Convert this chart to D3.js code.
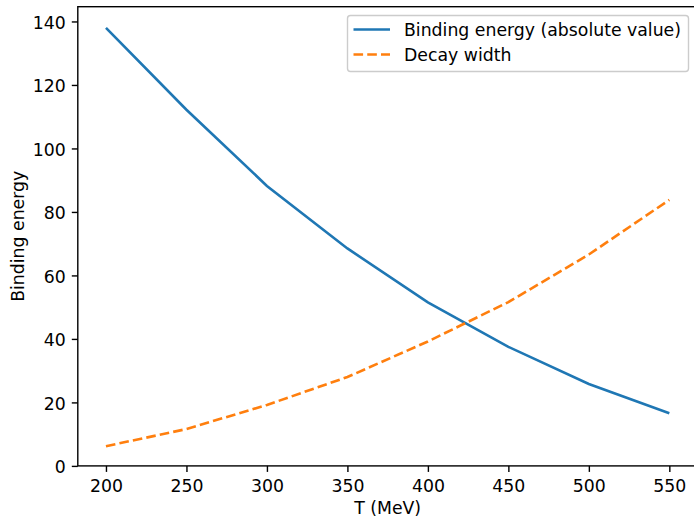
<!DOCTYPE html>
<html>
<head>
<meta charset="utf-8">
<script src="https://cdn.jsdelivr.net/npm/d3@7"></script>
<style>
  body { margin: 0; background: white; }
  text { font-family: "DejaVu Sans", sans-serif; }
</style>
</head>
<body>
<script>
const width = 694;
const height = 519;

// data
const temps = [200, 250, 300, 350, 400, 450, 500, 550];
const binding = [138.0, 112.2, 88.2, 68.5, 51.5, 37.5, 25.8, 16.6];
const decay = [6.2, 11.6, 19.2, 28.0, 39.2, 51.6, 66.6, 83.8];
const x_ticks = [200, 250, 300, 350, 400, 450, 500, 550];
const y_ticks = [0, 20, 40, 60, 80, 100, 120, 140];
const labels = ["Binding energy (absolute value)", "Decay width"];

const ax_left = 77.8, ax_right = 697.5, ax_top = 6.7, ax_bottom = 465.9;
const fs = "17.3px";
const lw = 2.6;
const dash = "9.6,4.15";

let svg = d3.select("body").append("svg")
    .attr("width", width)
    .attr("height", height);

let x = d3.scaleLinear().domain([182.5, 567.5]).range([ax_left, ax_right]);
let y = d3.scaleLinear().domain([0, 144.65]).range([ax_bottom, ax_top]);

// lines
let line = d3.line().x((d, i) => x(temps[i])).y(d => y(d));

svg.append("path")
    .datum(binding)
    .attr("d", line)
    .attr("fill", "none")
    .attr("stroke", "#1f77b4")
    .attr("stroke-width", lw);

svg.append("path")
    .datum(decay)
    .attr("d", line)
    .attr("fill", "none")
    .attr("stroke", "#ff7f0e")
    .attr("stroke-width", lw)
    .attr("stroke-dasharray", dash);

// axes
let xAxis = svg.append("g")
    .attr("transform", `translate(0,${ax_bottom})`)
    .call(d3.axisBottom(x).tickValues(x_ticks).tickSize(6).tickPadding(8).tickFormat(d3.format("d")));
let yAxis = svg.append("g")
    .attr("transform", `translate(${ax_left},0)`)
    .call(d3.axisLeft(y).tickValues(y_ticks).tickSize(6).tickPadding(6).tickFormat(d3.format("d")));

[xAxis, yAxis].forEach(a => {
    a.select(".domain").remove();
    a.selectAll(".tick line").attr("stroke", "black").attr("stroke-width", 1.4);
    a.selectAll(".tick text")
        .attr("fill", "black")
        .attr("font-size", fs);
});
yAxis.selectAll(".tick text").attr("dy", "0.4em");

// spines
svg.append("rect")
    .attr("x", ax_left).attr("y", ax_top)
    .attr("width", ax_right - ax_left).attr("height", ax_bottom - ax_top)
    .attr("fill", "none")
    .attr("stroke", "black")
    .attr("stroke-width", 1.4);

// axis labels
svg.append("text")
    .attr("text-anchor", "middle")
    .attr("x", (ax_left + ax_right) / 2)
    .attr("y", 514)
    .style("font-size", fs)
    .text("T (MeV)");

svg.append("text")
    .attr("text-anchor", "middle")
    .attr("transform", `translate(23.5,${(ax_top + ax_bottom) / 2}) rotate(-90)`)
    .style("font-size", fs)
    .text("Binding energy");

// legend
let lg = svg.append("g").attr("transform", "translate(347.5,15.5)");
lg.append("rect")
    .attr("width", 341).attr("height", 56)
    .attr("rx", 3)
    .attr("fill", "white")
    .attr("fill-opacity", 0.8)
    .attr("stroke", "#cccccc")
    .attr("stroke-width", 1.4);

labels.forEach((l, i) => {
    let yy = 14 + i * 25;
    lg.append("line")
        .attr("x1", 6).attr("x2", 42.5)
        .attr("y1", yy).attr("y2", yy)
        .attr("stroke", i == 0 ? "#1f77b4" : "#ff7f0e")
        .attr("stroke-width", lw)
        .attr("stroke-dasharray", i == 0 ? null : dash);
    lg.append("text")
        .attr("x", 56.5)
        .attr("y", yy + 6.3)
        .style("font-size", fs)
        .text(l);
});
</script>
</body>
</html>
